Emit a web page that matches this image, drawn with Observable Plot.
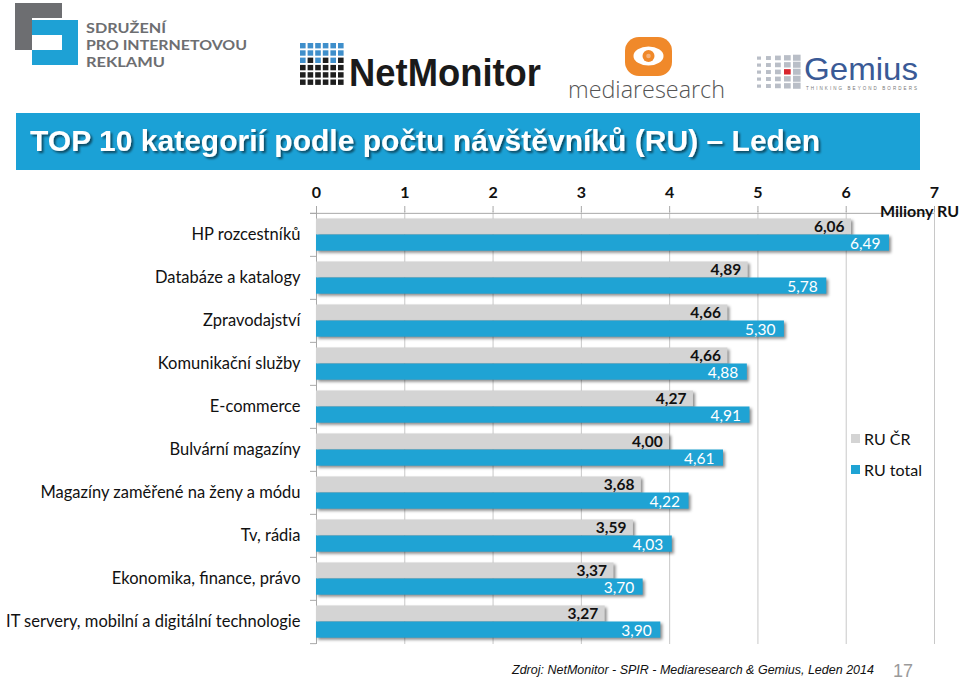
<!DOCTYPE html>
<html>
<head>
<meta charset="utf-8">
<script src="https://cdn.jsdelivr.net/npm/d3@7"></script>
<script src="https://cdn.jsdelivr.net/npm/@observablehq/plot@0.6"></script>
<style>
  html, body { margin: 0; padding: 0; background: #fff; }
  body { width: 960px; height: 681px; position: relative; overflow: hidden; font-family: Lato, "Open Sans", sans-serif; }
  #chart { position: absolute; left: 0; top: 180px; }
  #chart g[aria-label="bar"] { filter: drop-shadow(2.5px 2px 1.5px rgba(0,0,0,0.45)); }
  .unit { position: absolute; left: 880px; top: 202px; font: bold 16px Lato, sans-serif; color: #111; line-height: 18px; }
  .legend { position: absolute; left: 851px; top: 423px; font: 16px Lato, sans-serif; color: #111; }
  .legend div { display: flex; align-items: center; height: 31px; }
  .legend span.sw { display: inline-block; width: 9px; height: 9px; margin-right: 4px; }
  .src { position: absolute; left: 512px; top: 663px; font: italic 12.5px "Liberation Sans", Arial, sans-serif; color: #111; white-space: nowrap; line-height: 15px; }
  .page { position: absolute; left: 893px; top: 661px; font: 18px "Liberation Sans", Arial, sans-serif; color: #9a9a9a; line-height: 20px; }
</style>
</head>
<body>
<svg id="hdr" width="960" height="180" style="position:absolute;left:0;top:0">
  <defs>
    <filter id="tshadow" x="-5%" y="-20%" width="110%" height="140%">
      <feDropShadow dx="2" dy="2" stdDeviation="1.2" flood-color="#000" flood-opacity="0.55"/>
    </filter>
  </defs>
  <!-- SPIR logo -->
  <path fill="#6d6e71" d="M15 3H62V18H32V50H15Z"/>
  <path fill="#1ea1d5" d="M32 20H78V65H32V50H62V35H32Z"/>
  <g font-family="Lato, sans-serif" font-weight="700" font-size="14" fill="#6d6e71">
    <text x="86" y="33" textLength="80" lengthAdjust="spacingAndGlyphs">SDRUŽENÍ</text>
    <text x="86" y="50" textLength="161" lengthAdjust="spacingAndGlyphs">PRO INTERNETOVOU</text>
    <text x="86" y="67" textLength="79" lengthAdjust="spacingAndGlyphs">REKLAMU</text>
  </g>
  <!-- NetMonitor logo -->
  <g id="nmgrid"></g>
  <text x="349" y="86" font-family="'Liberation Sans', Arial, sans-serif" font-weight="bold" font-size="38" fill="#1a1a1a" textLength="192" lengthAdjust="spacingAndGlyphs">NetMonitor</text>
  <!-- Mediaresearch logo -->
  <rect x="625" y="37" width="47" height="39" rx="14" fill="#f0892a"/>
  <ellipse cx="648.5" cy="56" rx="15" ry="9.5" fill="#fff"/>
  <circle cx="648.5" cy="56" r="6" fill="#f0892a"/>
  <circle cx="648.5" cy="56" r="2.3" fill="#f6b27a"/>
  <text x="568" y="98" font-family="'Open Sans', sans-serif" font-weight="300" font-size="24" fill="#555" textLength="157" lengthAdjust="spacingAndGlyphs">mediaresearch</text>
  <!-- Gemius logo -->
  <g id="gmgrid"></g>
  <text x="804" y="80" font-family="'Liberation Sans', Arial, sans-serif" font-size="32" fill="#3a5a96" textLength="114" lengthAdjust="spacingAndGlyphs">Gemius</text>
  <text x="806" y="90" font-family="'Liberation Sans', Arial, sans-serif" font-size="4.5" fill="#777" textLength="111" lengthAdjust="spacing">THINKING BEYOND BORDERS</text>
  <!-- Title bar -->
  <rect x="16" y="113" width="904" height="57" fill="#1ba1d6"/>
  <text x="30" y="151" font-family="'Liberation Sans Narrow', 'Arial Narrow', 'Liberation Sans', Arial, sans-serif" font-weight="bold" font-size="30" fill="#fff" textLength="790" lengthAdjust="spacingAndGlyphs" filter="url(#tshadow)">TOP 10 kategorií podle počtu návštěvníků (RU) – Leden</text>
</svg>
<div id="chart"></div>
<div class="unit">Miliony RU</div>
<div class="legend">
  <div><span class="sw" style="background:#d4d4d4"></span>RU ČR</div>
  <div><span class="sw" style="background:#1fa3d4"></span>RU total</div>
</div>
<div class="src">Zdroj: NetMonitor - SPIR - Mediaresearch &amp; Gemius, Leden 2014</div>
<div class="page">17</div>
<script>
// ---- Data ----
const categories = [
  "HP rozcestníků",
  "Databáze a katalogy",
  "Zpravodajství",
  "Komunikační služby",
  "E-commerce",
  "Bulvární magazíny",
  "Magazíny zaměřené na ženy a módu",
  "Tv, rádia",
  "Ekonomika, finance, právo",
  "IT servery, mobilní a digitální technologie"
];
const ruCR    = [6.06, 4.89, 4.66, 4.66, 4.27, 4.00, 3.68, 3.59, 3.37, 3.27];
const ruTotal = [6.49, 5.78, 5.30, 4.88, 4.91, 4.61, 4.22, 4.03, 3.70, 3.90];
const xTicks  = [0, 1, 2, 3, 4, 5, 6, 7];

const rows = categories.map((c, i) => ({category: c, cr: ruCR[i], total: ruTotal[i]}));
const fmt = v => v.toFixed(2).replace(".", ",");

// ---- decorative logo grids ----
(function () {
  const nm = d3.select("#nmgrid");
  for (let r = 0; r < 6; r++) for (let c = 0; c < 6; c++) {
    const blue = r < 3 && (c + r) % 2 === 0 || r < 2;
    nm.append("rect").attr("x", 300 + c * 7.6).attr("y", 43 + r * 7.3)
      .attr("width", 5.6).attr("height", 5.4)
      .attr("fill", blue ? "#3f8fcb" : "#1e1e1e");
  }
  const gm = d3.select("#gmgrid");
  for (let r = 0; r < 5; r++) for (let c = 0; c < 5; c++) {
    const s = 4 + c * 0.9;
    gm.append("rect").attr("x", 757 + c * 9).attr("y", 56 + r * 7 + (5 - s) / 2)
      .attr("width", s).attr("height", s * 0.8)
      .attr("fill", (r === 2 && c === 3) ? "#d8262e" : "#b9bec7");
  }
})();

// ---- Chart ----
const H = 480, MT = 31, MB = 16;
const bw = (H - MT - MB) / categories.length;

const chart = Plot.plot({
  width: 960,
  height: H,
  marginLeft: 316,
  marginRight: 26,
  marginTop: MT,
  marginBottom: MB,
  style: {fontFamily: "Lato, 'Open Sans', sans-serif", background: "transparent", overflow: "visible"},
  x: {domain: [0, 7], axis: null},
  y: {domain: categories, padding: 0, axis: null},
  marks: [
    Plot.gridX(xTicks, {stroke: "#c8c8c8", strokeOpacity: 1}),
    Plot.axisX(xTicks, {anchor: "top", tickSize: 6, tickPadding: 8, fontSize: 16, fontWeight: "bold", stroke: "#a8a8a8", fill: "#111", tickFormat: d => String(d), label: null}),
    Plot.ruleY([categories[0]], {y: d => d, x1: 0, x2: 7, dy: -bw / 2, stroke: "#a8a8a8", insetLeft: -6}),
    Plot.ruleY(categories, {y: d => d, x1: 0, x2: 0, dy: -bw / 2, insetRight: 6, stroke: "#a8a8a8"}),
    Plot.ruleY([categories[categories.length - 1]], {y: d => d, x1: 0, x2: 0, dy: bw / 2, insetRight: 6, stroke: "#a8a8a8"}),
    Plot.ruleX([0], {stroke: "#a8a8a8"}),
    Plot.barX(rows, {y: "category", x: "cr", fill: "#d4d4d4", insetTop: 5.5, insetBottom: bw - 21.8}),
    Plot.barX(rows, {y: "category", x: "total", fill: "#1fa3d4", insetTop: 21.5, insetBottom: 5.3}),
    Plot.text(rows, {y: "category", x: "cr", text: d => fmt(d.cr), textAnchor: "end", dx: -7, dy: -7.5, fontSize: 15.5, fontWeight: "bold", fill: "#111"}),
    Plot.text(rows, {y: "category", x: "total", text: d => fmt(d.total), textAnchor: "end", dx: -9, dy: 9, fontSize: 15.5, fill: "#fff"}),
    Plot.axisY({tickSize: 0, tickPadding: 16, fontSize: 16.5, fill: "#111", label: null})
  ]
});
document.getElementById("chart").appendChild(chart);
</script>
</body>
</html>
